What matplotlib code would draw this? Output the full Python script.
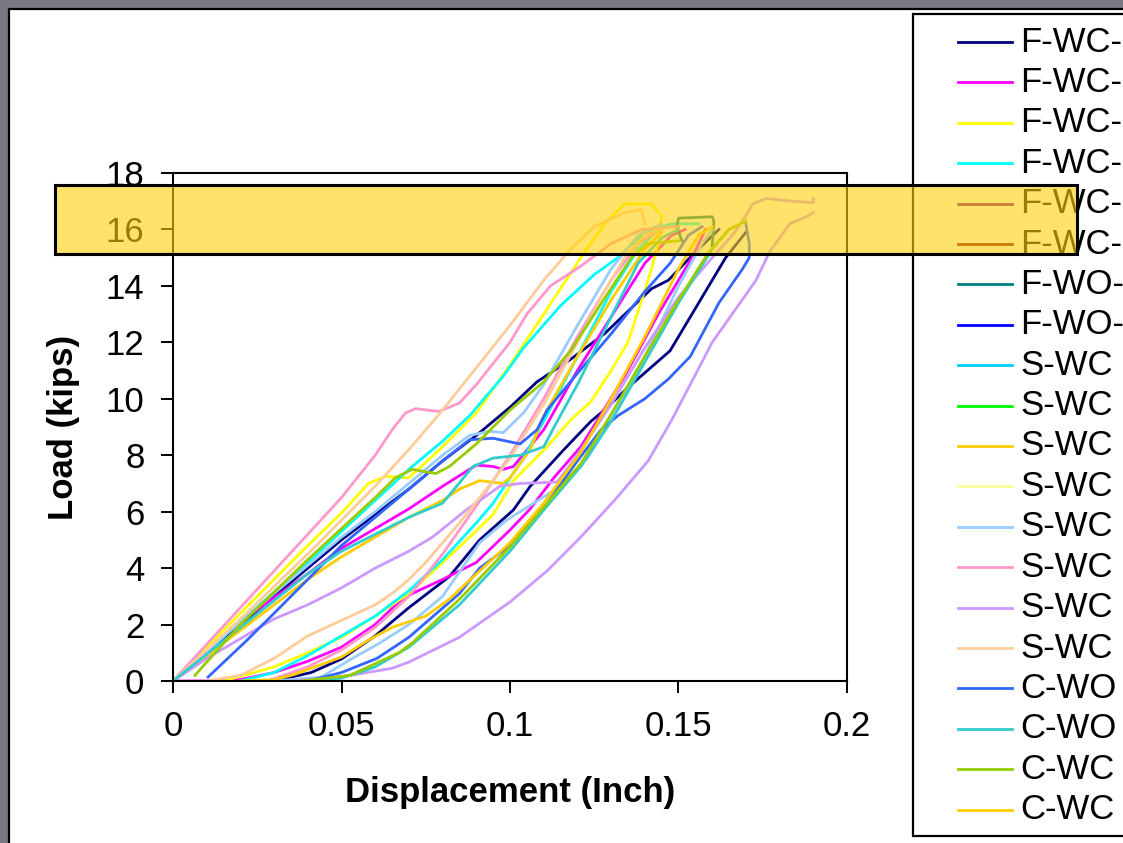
import numpy as np
import matplotlib
matplotlib.use("Agg")
import matplotlib.pyplot as plt
from matplotlib.patches import Rectangle
from matplotlib.lines import Line2D

nan = np.nan

# ---------------- data ----------------
series_names = ["F-WC-", "F-WC-", "F-WC-", "F-WC-", "F-WC-", "F-WC-", "F-WO-", "F-WO-",
                "S-WC", "S-WC", "S-WC", "S-WC", "S-WC", "S-WC", "S-WC", "S-WC",
                "C-WO", "C-WO", "C-WC", "C-WC"]
series_colors = ["#000080", "#FF00FF", "#FFFF00", "#00FFFF", "#800080", "#800000", "#008080", "#0000FF",
                 "#00CCFF", "#00FF00", "#FFCC00", "#FFFF99", "#99CCFF", "#FF99CC", "#CC99FF", "#FFCC99",
                 "#3366FF", "#33CCCC", "#99CC00", "#FFCC00"]

fwc1_x = [0, 0.02, 0.04, 0.05, 0.06, 0.07, 0.08, 0.09, 0.1, 0.108, 0.118, 0.128, 0.142, 0.147, 0.155, 0.162, nan,
          0.03, 0.041, 0.05, 0.06, 0.07, 0.082, 0.091, 0.101, 0.106, 0.116, 0.124, 0.128, 0.135, 0.1475, 0.156, 0.164, 0.17]
fwc1_y = [0, 2.0, 4.0, 5.0, 5.9, 6.8, 7.8, 8.7, 9.7, 10.6, 11.4, 12.3, 13.9, 14.2, 15.2, 16.0, nan,
          0, 0.3, 0.78, 1.6, 2.6, 3.7, 5.0, 6.06, 6.9, 8.2, 9.2, 9.6, 10.4, 11.7, 13.4, 15.0, 15.9]

fwc2_x = [0, 0.02, 0.04, 0.05, 0.06, 0.07, 0.08, 0.09, 0.095, 0.098, 0.101, 0.11, 0.12, 0.13, 0.14, 0.148, 0.152, nan,
          0, 0.01, 0.02, 0.03, 0.04, 0.05, 0.06, 0.067, 0.071, 0.08, 0.09, 0.1, 0.106, 0.113, 0.121, 0.126, 0.134, 0.144, 0.154, 0.158]
fwc2_y = [0, 2.1, 3.8, 4.7, 5.4, 6.1, 6.9, 7.65, 7.6, 7.5, 7.6, 8.9, 11.0, 12.9, 14.8, 15.8, 16.0, nan,
          0, 0, 0.05, 0.3, 0.7, 1.2, 2.0, 2.8, 3.1, 3.6, 4.2, 5.35, 6.1, 7.2, 8.3, 9.25, 10.8, 13.0, 15.0, 16.0]

fwc3_x = [0, 0.02, 0.04, 0.05, 0.058, 0.063, 0.07, 0.08, 0.09, 0.1, 0.11, 0.121, 0.128, 0.134, 0.142, 0.144, nan,
          0.015, 0.03, 0.04, 0.05, 0.06, 0.07, 0.085, 0.095, 0.101, 0.111, 0.118, 0.124, 0.13, 0.135, 0.138, 0.142, 0.144, 0.145]
fwc3_y = [0, 2.4, 4.8, 5.95, 7.0, 7.25, 7.2, 8.3, 9.5, 11.2, 13.0, 15.0, 16.2, 16.9, 16.9, 16.6, nan,
          0, 0.5, 1.0, 1.55, 2.3, 3.1, 4.75, 5.9, 7.1, 8.3, 9.25, 9.9, 11.0, 12.0, 13.1, 14.6, 15.5, 16.5]

fwc4_x = [0, 0.02, 0.04, 0.05, 0.06, 0.07, 0.08, 0.088, 0.098, 0.104, 0.115, 0.125, 0.132, 0.14, 0.148, 0.156, nan,
          0.02, 0.03, 0.04, 0.05, 0.06, 0.07, 0.08, 0.09, 0.095, 0.104, 0.11, 0.12, 0.13, 0.138, 0.145]
fwc4_y = [0, 2.1, 4.2, 5.3, 6.4, 7.5, 8.5, 9.4, 10.8, 11.8, 13.3, 14.4, 15.0, 15.9, 16.2, 16.2, nan,
          0, 0.3, 0.9, 1.6, 2.3, 3.2, 4.3, 5.6, 6.3, 7.9, 9.2, 11.5, 13.8, 15.3, 16.1]

fwc5_x, fwc5_y = [], []
fwc6_x, fwc6_y = [], []

fwo1_x = [0.151, 0.1495, 0.150, 0.16, 0.1605, 0.16]
fwo1_y = [15.6, 16.1, 16.4, 16.45, 16.3, 15.4]
fwo2_x, fwo2_y = [], []

swc1_x, swc1_y = [], []
swc2_x, swc2_y = [], []

swc3_x = [0, 0.02, 0.04, 0.05, 0.06, 0.07, 0.08, 0.085, 0.091, 0.098, 0.1, 0.106, 0.11, 0.12, 0.13, 0.14, 0.145]
swc3_y = [0, 1.8, 3.6, 4.4, 5.1, 5.8, 6.4, 6.8, 7.1, 7.0, 7.2, 8.2, 9.4, 11.5, 13.5, 15.3, 15.9]

swc4_x, swc4_y = [], []

swc5_x = [0, 0.02, 0.04, 0.05, 0.06, 0.07, 0.08, 0.088, 0.094, 0.098, 0.104, 0.11, 0.12, 0.13, 0.138, 0.145, nan,
          0.03, 0.044, 0.0525, 0.0614, 0.07, 0.08, 0.091, 0.099, 0.107, 0.115, 0.123, 0.13, 0.14, 0.15, 0.157, 0.16]
swc5_y = [0, 2.1, 4.1, 5.1, 6.0, 7.0, 8.0, 8.7, 8.85, 8.8, 9.5, 10.5, 12.6, 14.6, 15.8, 16.2, nan,
          0, 0.14, 0.75, 1.35, 2.0, 3.0, 4.9, 5.7, 6.3, 6.9, 7.9, 9.25, 11.5, 14.0, 15.5, 16.0]

swc6_x = [0, 0.01, 0.02, 0.03, 0.04, 0.05, 0.06, 0.065, 0.069, 0.072, 0.079, 0.085, 0.09, 0.1, 0.105, 0.112, 0.121, 0.13, 0.139, 0.15, nan,
          0.028, 0.04, 0.05, 0.06, 0.07, 0.08, 0.09, 0.1, 0.11, 0.12, 0.13, 0.138, 0.145]
swc6_y = [0, 1.3, 2.6, 3.9, 5.2, 6.5, 8.0, 8.9, 9.5, 9.65, 9.55, 9.85, 10.5, 12.0, 13.0, 14.0, 14.7, 15.5, 16.0, 16.1, nan,
          0, 0.5, 1.1, 1.9, 3.0, 4.5, 6.2, 8.0, 10.0, 12.2, 14.2, 15.5, 16.0]

swc7_x = [0, 0.01, 0.02, 0.03, 0.04, 0.05, 0.06, 0.07, 0.077, 0.087, 0.097, 0.103, 0.114, 0.12, 0.13, 0.14, 0.15, 0.16, 0.166, 0.169, 0.172, 0.176, 0.184, 0.19, 0.19, nan,
          0.035, 0.05, 0.065, 0.07, 0.085, 0.1, 0.111, 0.121, 0.131, 0.141, 0.148, 0.16, 0.173, 0.177, 0.183, 0.188, 0.19]
swc7_y = [0, 0.8, 1.5, 2.2, 2.7, 3.3, 4.0, 4.6, 5.1, 6.06, 6.9, 7.0, 7.05, 8.0, 9.8, 11.8, 13.6, 15.0, 15.8, 16.3, 16.9, 17.1, 17.0, 16.95, 17.1, nan,
          0, 0.15, 0.45, 0.67, 1.55, 2.8, 3.9, 5.1, 6.4, 7.8, 9.25, 12.0, 14.2, 15.2, 16.2, 16.45, 16.6]

swc8_x = [0, 0.02, 0.04, 0.05, 0.06, 0.07, 0.08, 0.09, 0.1, 0.11, 0.118, 0.125, 0.134, 0.139, 0.14, nan,
          0.01, 0.02, 0.03, 0.04, 0.05, 0.06, 0.065, 0.07, 0.075, 0.085, 0.095, 0.1, 0.11, 0.12, 0.128, 0.134, 0.14, 0.145]
swc8_y = [0, 2.2, 4.5, 5.7, 6.9, 8.2, 9.6, 11.1, 12.6, 14.2, 15.3, 16.1, 16.6, 16.7, 16.2, nan,
          0, 0.2, 0.8, 1.6, 2.15, 2.7, 3.1, 3.6, 4.2, 5.6, 7.1, 7.9, 9.8, 12.0, 13.8, 15.0, 15.8, 16.0]

cwo1_x = [0.0104, 0.022, 0.03, 0.04, 0.05, 0.06, 0.07, 0.08, 0.088, 0.095, 0.103, 0.108, 0.111, 0.12, 0.13, 0.14, 0.1475, 0.153, 0.157, nan,
          0.04, 0.05, 0.0605, 0.07, 0.085, 0.091, 0.1, 0.111, 0.12, 0.127, 0.132, 0.14, 0.147, 0.1535, 0.162, 0.169, 0.171, 0.171, 0.17]
cwo1_y = [0.14, 1.45, 2.4, 3.6, 4.8, 5.8, 6.8, 7.8, 8.55, 8.6, 8.4, 8.9, 9.6, 10.9, 12.3, 13.8, 14.8, 15.8, 16.1, nan,
          0, 0.3, 0.8, 1.55, 3.1, 4.0, 4.8, 6.3, 7.8, 8.9, 9.4, 10.0, 10.7, 11.5, 13.4, 14.6, 15.0, 15.5, 16.2]

cwo2_x = [0, 0.02, 0.04, 0.05, 0.06, 0.07, 0.08, 0.089, 0.095, 0.103, 0.11, 0.114, 0.12, 0.13, 0.138, 0.145, 0.15, nan,
          0.04, 0.05, 0.06, 0.07, 0.085, 0.1, 0.111, 0.121, 0.13, 0.14, 0.15, 0.16, 0.165]
cwo2_y = [0, 1.9, 3.8, 4.6, 5.2, 5.8, 6.3, 7.6, 7.9, 8.0, 8.3, 9.2, 10.5, 12.9, 14.8, 15.7, 16.0, nan,
          0, 0.1, 0.5, 1.2, 2.7, 4.6, 6.2, 7.6, 9.2, 11.3, 13.4, 15.3, 16.0]

cwc1_x = [0.0065, 0.02, 0.04, 0.05, 0.06, 0.066, 0.071, 0.078, 0.082, 0.09, 0.1, 0.11, 0.118, 0.125, 0.136, 0.141, 0.15, nan,
          0.038, 0.0525, 0.067, 0.071, 0.085, 0.1, 0.111, 0.121, 0.129, 0.14, 0.15, 0.159, 0.165, 0.17]
cwc1_y = [0.2, 2.0, 4.3, 5.4, 6.5, 7.2, 7.5, 7.35, 7.6, 8.4, 9.6, 10.6, 11.7, 13.0, 15.0, 15.5, 15.6, nan,
          0, 0.2, 1.0, 1.35, 2.9, 4.75, 6.3, 7.7, 9.25, 11.5, 13.5, 15.2, 16.0, 16.3]

cwc2_x = [0.02, 0.03, 0.036, 0.05, 0.058, 0.065, 0.075, 0.082, 0.091, 0.1, 0.11, 0.121, 0.13, 0.14, 0.15, 0.156, 0.16]
cwc2_y = [0, 0.05, 0.23, 0.85, 1.45, 1.9, 2.3, 2.9, 3.9, 4.9, 6.3, 8.1, 10.0, 12.2, 14.6, 15.8, 16.1]

series_x = [fwc1_x, fwc2_x, fwc3_x, fwc4_x, fwc5_x, fwc6_x, fwo1_x, fwo2_x,
            swc1_x, swc2_x, swc3_x, swc4_x, swc5_x, swc6_x, swc7_x, swc8_x,
            cwo1_x, cwo2_x, cwc1_x, cwc2_x]
series_y = [fwc1_y, fwc2_y, fwc3_y, fwc4_y, fwc5_y, fwc6_y, fwo1_y, fwo2_y,
            swc1_y, swc2_y, swc3_y, swc4_y, swc5_y, swc6_y, swc7_y, swc8_y,
            cwo1_y, cwo2_y, cwc1_y, cwc2_y]

x_ticks = [0, 0.05, 0.1, 0.15, 0.2]
x_ticklabels = ["0", "0.05", "0.1", "0.15", "0.2"]
y_ticks = [0, 2, 4, 6, 8, 10, 12, 14, 16, 18]

# ---------------- figure ----------------
W, H = 1123, 843
plt.rcParams["font.family"] = ["Liberation Sans", "DejaVu Sans"]
fig = plt.figure(figsize=(W / 100, H / 100), dpi=100)
fig.patch.set_facecolor("#7a7882")

def fx(px):
    return px / W

def fy(py):
    return 1 - py / H

# white sheet with black border
fig.add_artist(Rectangle((fx(9), -0.1), 1.2, fy(9) + 0.1, transform=fig.transFigure,
                         facecolor="white", edgecolor="black", linewidth=1.6, zorder=-5))

ax = fig.add_axes([fx(173), fy(681), (847 - 173) / W, (681 - 173) / H])
ax.set_facecolor("none")
for xs, ys, c in zip(series_x, series_y, series_colors):
    ax.plot(xs, ys, color=c, linewidth=2.0, solid_joinstyle="round")

ax.set_xlim(0, 0.2)
ax.set_ylim(0, 18)
ax.set_xticks(x_ticks)
ax.set_xticklabels(x_ticklabels)
ax.set_yticks(y_ticks)
ax.tick_params(direction="out", length=8.6, width=1.4, labelsize=25, pad=12, colors="black")
for s in ax.spines.values():
    s.set_linewidth(1.5)
    s.set_color("black")
ax.set_xlabel("Displacement (Inch)", fontsize=25, fontweight="bold")
ax.set_ylabel("Load (kips)", fontsize=25, fontweight="bold")
ax.xaxis.set_label_coords(0.5, -0.22)
ax.xaxis.label.set_va("center")
ax.yaxis.set_label_coords(-0.162, 0.5)
ax.yaxis.label.set_va("center")

# legend (drawn as a framed list; extends past the right edge as in the source)
fig.add_artist(Rectangle((fx(913), fy(836)), 0.5, (836 - 14) / H, transform=fig.transFigure,
                         facecolor="white", edgecolor="black", linewidth=1.6, zorder=1))
for i, (name, c) in enumerate(zip(series_names, series_colors)):
    yy = fy(42 + i * 40.4)
    fig.add_artist(Line2D([fx(958), fx(1012)], [yy, yy], transform=fig.transFigure,
                          color=c, linewidth=2.0, zorder=2))
    fig.text(fx(1020), yy, name, fontsize=25, va="center", ha="left", zorder=3)

# translucent highlight band
fig.add_artist(Rectangle((fx(55), fy(254)), (1077 - 55) / W, (254 - 185) / H, transform=fig.transFigure,
                         facecolor=(1.0, 208 / 255, 7 / 255, 0.6), edgecolor="black", linewidth=2.2, zorder=10))

fig.savefig("out.png", dpi=100, facecolor=fig.get_facecolor())
